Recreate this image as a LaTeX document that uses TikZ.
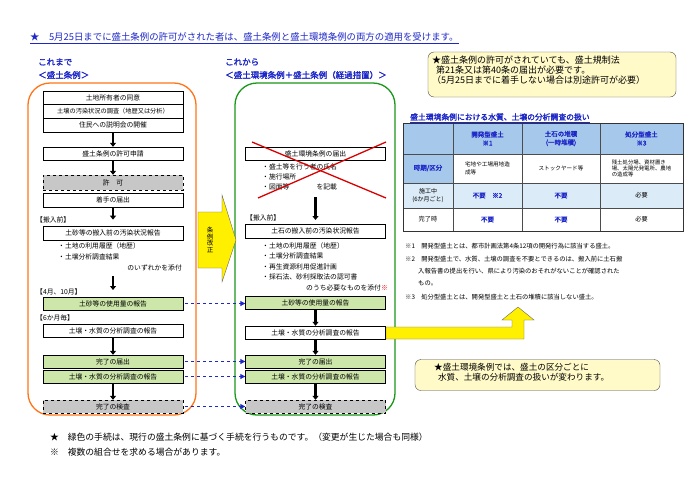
\documentclass[tikz,border=0pt]{standalone}
\usepackage{fontspec}
\setmainfont{Noto Sans CJK JP}
\newfontfamily\jpb{Noto Sans CJK JP}[FakeBold=2]
\usetikzlibrary{arrows.meta,calc}
\definecolor{tblue}{RGB}{30,40,200}
\definecolor{hdr}{RGB}{165,200,235}
\definecolor{lb}{RGB}{220,235,248}
\definecolor{gfill}{RGB}{205,230,170}
\definecolor{yel}{RGB}{255,240,0}
\definecolor{note}{RGB}{255,250,200}
\newcommand{\fs}[1]{\fontsize{#1}{#1}\selectfont}
\tikzset{
 pbox/.style={draw, minimum width=140, minimum height=13, inner sep=0, font=\fs{6.8}},
 gbox/.style={pbox, fill=gfill},
 kbox/.style={pbox, fill=black!22, dashed},
 dn/.style={-{Triangle[length=4,width=6]}, line width=2.2},
 da/.style={-{Triangle[length=5,width=5]}, tblue, dashed, line width=1},
 lbl/.style={anchor=west, inner sep=0, font=\fs{6.8}},
 ttl/.style={anchor=west, inner sep=0, font=\jpb\fs{8.5}, text=tblue},
 tc/.style={inner sep=0, align=center, font=\fs{5.6}}
}
\begin{document}
\begin{tikzpicture}[x=1pt,y=-1pt]
\useasboundingbox (0,0) rectangle (690,488);
\fill[white] (0,0) rectangle (690,488);
\node[anchor=west, inner sep=0, font=\fs{9.4}, text=tblue] (hd) at (30,38) {\underline{★　5月25日までに盛土条例の許可がされた者は、盛土条例と盛土環境条例の両方の適用を受けます。}};
\node[ttl] (t1) at (38,62) {これまで};
\node[ttl] (t2) at (38,75) {＜盛土条例＞};
\node[ttl] (t3) at (225,62) {これから};
\node[ttl] (t4) at (225,75) {＜盛土環境条例＋盛土条例（経過措置）＞};
\draw[orange!80!red!90, line width=1.3, rounded corners=22] (28,83) rectangle (196,415);
\draw[green!55!black!90, line width=1.3, rounded corners=22] (235,83) rectangle (395,415);
% left column
\node[pbox] (l1) at (113,98) {土地所有者の同意};
\node[pbox, minimum height=14, font=\fs{6.2}] (l2) at (113,111) {土壌の汚染状況の調査（地歴又は分析）};
\node[pbox, minimum height=14] (l3) at (113,125) {住民への説明会の開催};
\node[pbox] (l4) at (113,153.5) {盛土条例の許可申請};
\node[kbox, minimum height=15] (l5) at (113,182.5) {許　可};
\node[pbox, minimum height=14] (l6) at (113,200) {着手の届出};
\node[lbl] (lk1) at (36,220) {【搬入前】};
\node[pbox, minimum height=14] (l7) at (113,233) {土砂等の搬入前の汚染状況報告};
\node[lbl] (lb1) at (58,246) {・土地の利用履歴（地歴）};
\node[lbl] (lb2) at (58,257) {・土壌分析調査結果};
\node[lbl, anchor=east] (lb3) at (182,268) {のいずれかを添付};
\node[lbl] (lk2) at (36,292) {【4月、10月】};
\node[gbox] (l8) at (113,303.5) {土砂等の使用量の報告};
\node[lbl] (lk3) at (36,318) {【6か月毎】};
\node[pbox] (l9) at (113,330.5) {土壌・水質の分析調査の報告};
\node[gbox] (l10) at (113,361.5) {完了の届出};
\node[gbox] (l11) at (113,376.5) {土壌・水質の分析調査の報告};
\node[kbox] (l12) at (113,406.5) {完了の検査};
\draw[dn] (l3.south) -- (l4.north);
\draw[dn] (l4.south) -- (l5.north);
\draw[dn] (l6.south) -- ([yshift=-3]lk1.north -| l6.south);
\coordinate (la) at (113,276);
\draw[dn] (la) -- ++(0,14);
\draw[dn] (l9.south) -- (l10.north);
\draw[dn] (l11.south) -- (l12.north);
% yellow arrow
\fill[yel, draw=black!60, line width=0.4] (198,212) -- (222,212) -- (222,195) -- (236,240) -- (222,282) -- (222,268) -- (198,268) -- cycle;
\node[tc, align=center, font=\fs{6.5}] (kai) at (210,240) {条\\例\\改\\正};
% right column
\node[pbox] (r1) at (315.5,153.5) {盛土環境条例の届出};
\node[lbl] (rb1) at (262,167) {・盛土等を行う者の氏名};
\node[lbl] (rb2) at (262,177) {・施行場所};
\node[lbl] (rb3) at (262,187) {・図面等　　　　を記載};
\draw[red!85!black, line width=1.3] (252,142) -- (386,198);
\draw[red!85!black, line width=1.3] (386,142) -- (258,198);
\node[lbl] (rk1) at (246,218) {【搬入前】};
\node[pbox, minimum height=14] (r2) at (315.5,231) {土石の搬入前の汚染状況報告};
\node[lbl] (rc1) at (262,246) {・土地の利用履歴（地歴）};
\node[lbl] (rc2) at (262,256) {・土壌分析調査結果};
\node[lbl] (rc3) at (262,267) {・再生資源利用促進計画};
\node[lbl] (rc4) at (262,277) {・採石法、砂利採取法の認可書};
\node[lbl, anchor=east] (rc5) at (388,288) {のうち必要なものを添付\textcolor{red}{※}};
\node[gbox] (r3) at (315.5,302.5) {土砂等の使用量の報告};
\node[pbox] (r4) at (315.5,332.5) {土壌・水質の分析調査の報告};
\node[gbox] (r5) at (315.5,361.5) {完了の届出};
\node[gbox] (r6) at (315.5,376.5) {土壌・水質の分析調査の報告};
\node[kbox] (r7) at (315.5,406.5) {完了の検査};
\coordinate (ra) at (315.5,197);
\draw[dn] (ra) -- ++(0,23);
\draw[dn] (r3.south) -- (r4.north);
\draw[dn] (r4.south) -- (r5.north);
\draw[dn] (r6.south) -- (r7.north);
% dashed blue
\draw[da] (l8.east) ++(2,0) -- (r3.west |- l8.east);
\draw[da] (l10.east) ++(2,0) -- (r5.west);
\draw[da] (l11.east) ++(2,0) -- (r6.west);
\draw[da] (l12.east) ++(2,0) -- (r7.west);
% L yellow arrow
\fill[yel, draw=black!60, line width=0.4] (386,327) -- (512,327) -- (512,320) -- (502,320) -- (518,307) -- (534,320) -- (524,320) -- (524,339) -- (386,339) -- cycle;
% note top right
\node[draw=black!70, fill=note, rounded corners=6, minimum width=248, minimum height=45, inner sep=0] (n1) at (552,74.5) {};
\node[anchor=north west, inner sep=0, align=left, font=\fs{9}] (n1t) at (432,56) {★盛土条例の許可がされていても、盛土規制法\\[1pt]\ \ 第21条又は第40条の届出が必要です。\\[1pt]（5月25日までに着手しない場合は別途許可が必要）};
% table
\node[anchor=west, inner sep=0, font=\jpb\fs{7.8}, text=tblue] (tt) at (410,118) {\underline{盛土環境条例における水質、土壌の分析調査の扱い}};
\fill[hdr] (403,123) rectangle (683,154);
\fill[hdr] (403,154) rectangle (453,183);
\fill[lb] (403,183) rectangle (683,208);
\draw[black!70, line width=0.5] (403,154) -- (683,154) (453,183) -- (683,183) (403,183) -- (453,183) (403,208) -- (683,208);
\draw[black!70, line width=0.5] (453,123) -- (453,231) (522,123) -- (522,231) (600,123) -- (600,231);
\draw[black!80, line width=1] (403,123) rectangle (683,231);
\node[tc, font=\jpb\fs{6.5}, text=tblue] (h0) at (428,168) {時期/区分};
\node[tc, font=\jpb\fs{6.5}, text=tblue] (h1) at (487.5,138.5) {開発型盛土\\[2pt]※1};
\node[tc, font=\jpb\fs{6.5}, text=tblue] (h2) at (561,138.5) {土石の堆積\\[2pt](一時堆積)};
\node[tc, font=\jpb\fs{6.5}, text=tblue] (h3) at (641.5,138.5) {処分型盛土\\[2pt]※3};
\node[tc, align=left, font=\fs{5.6}] (s1) at (487.5,168.5) {宅地や工場用地造\\[2pt]成等};
\node[tc, font=\fs{5.6}] (s2) at (561,168.5) {ストックヤード等};
\node[tc, align=left, font=\fs{5.4}] (s3) at (641.5,168.5) {残土処分場、資材置き\\[1pt]場、太陽光発電所、農地\\[1pt]の造成等};
\node[tc, font=\fs{6}] (c1) at (428,195.5) {施工中\\[2pt](6か月ごと)};
\node[tc, font=\jpb\fs{6.5}, text=tblue] (c2) at (487.5,195.5) {不要　※2};
\node[tc, font=\jpb\fs{6.5}, text=tblue] (c3) at (561,195.5) {不要};
\node[tc, font=\fs{6.2}] (c4) at (641.5,195.5) {必要};
\node[tc, font=\fs{6.2}] (d1) at (428,219.5) {完了時};
\node[tc, font=\jpb\fs{6.5}, text=tblue] (d2) at (487.5,219.5) {不要};
\node[tc, font=\jpb\fs{6.5}, text=tblue] (d3) at (561,219.5) {不要};
\node[tc, font=\fs{6.2}] (d4) at (641.5,219.5) {必要};
% footnotes
\node[lbl, font=\fs{6.3}] (f1) at (405,246) {※1　開発型盛土とは、都市計画法第4条12項の開発行為に該当する盛土。};
\node[lbl, font=\fs{6.3}] (f2) at (405,259) {※2　開発型盛土で、水質、土壌の調査を不要とできるのは、搬入前に土石搬};
\node[lbl, font=\fs{6.3}] (f3) at (418,271) {入報告書の提出を行い、県により汚染のおそれがないことが確認された};
\node[lbl, font=\fs{6.3}] (f4) at (418,283) {もの。};
\node[lbl, font=\fs{6.3}] (f5) at (405,297) {※3　処分型盛土とは、開発型盛土と土石の堆積に該当しない盛土。};
% note bottom right
\node[draw=black!70, fill=note, rounded corners=6, minimum width=245, minimum height=31, inner sep=0] (n2) at (537.5,375) {};
\node[anchor=north west, inner sep=0, align=left, font=\fs{8.6}] (n2t) at (434,363) {★盛土環境条例では、盛土の区分ごとに\\[1pt]\ \ 水質、土壌の分析調査の扱いが変わります。};
% bottom notes
\node[lbl, font=\fs{8.8}] (b1) at (50,437) {★　緑色の手続は、現行の盛土条例に基づく手続を行うものです。（変更が生じた場合も同様）};
\node[lbl, font=\fs{8.8}] (b2) at (50,452) {※　複数の組合せを求める場合があります。};
\end{tikzpicture}
\end{document}
